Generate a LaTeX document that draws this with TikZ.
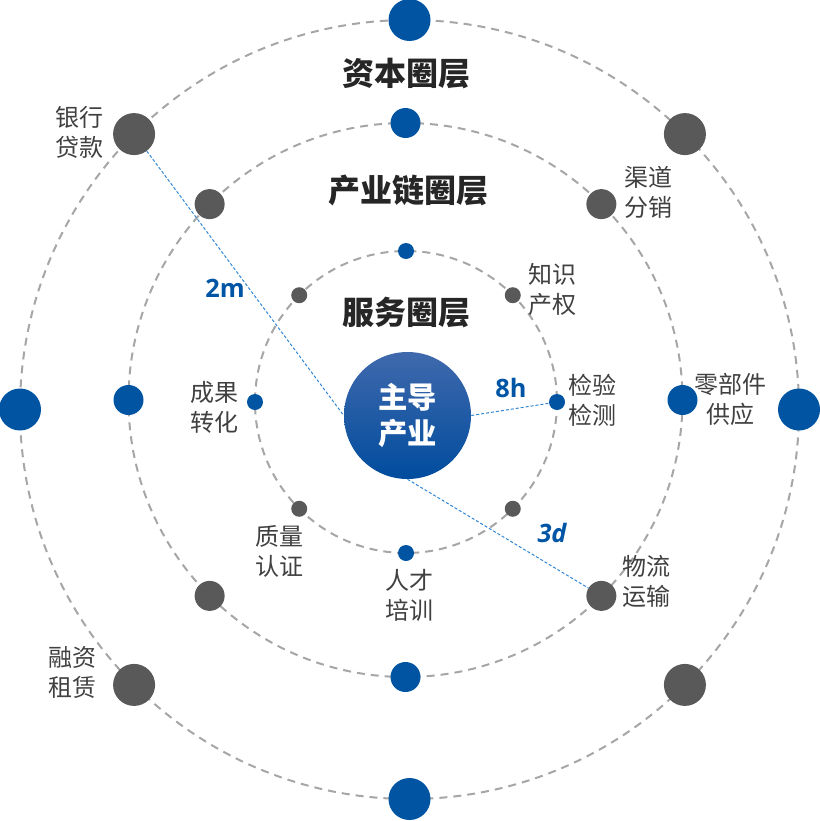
\documentclass[tikz,border=0pt]{standalone}
\usepackage{fontspec}
\setmainfont{Noto Sans CJK SC}
\newfontfamily\numfont{Open Sans}

\definecolor{ringgray}{HTML}{A6A6A6}
\definecolor{dotblue}{HTML}{0054A2}
\definecolor{dotgray}{HTML}{595959}
\definecolor{linkblue}{HTML}{2F86D6}
\definecolor{numblue}{HTML}{0055A5}
\definecolor{titlegray}{HTML}{262626}
\definecolor{labelgray}{HTML}{404040}
\definecolor{hubtop}{HTML}{4069AC}
\definecolor{hubbottom}{HTML}{004C9E}

\begin{document}
\begin{tikzpicture}[x=0.75pt, y=-0.75pt,
	ring/.style={draw=ringgray, line width=1.5pt, dash pattern=on 6pt off 4.5pt},
	bigdot/.style={circle, fill, inner sep=0pt, minimum size=31.5pt},
	middot/.style={circle, fill, inner sep=0pt, minimum size=22.5pt},
	smalldot/.style={circle, fill, inner sep=0pt, minimum size=12pt},
	layer/.style={font=\bfseries\fontsize{24}{28}\selectfont, text=titlegray, inner sep=0pt},
	lbl/.style={font=\fontsize{18}{22.5}\selectfont, text=labelgray, align=center, inner sep=0pt},
	num/.style={font=\numfont\bfseries\fontsize{19}{22}\selectfont, text=numblue, inner sep=0pt},
	link/.style={draw=linkblue, line width=0.75pt, dash pattern=on 2.25pt off 1.5pt}]
	\useasboundingbox (0,0) rectangle (819,821);
	
	% rings
	\draw[ring] (409.5,409.5) circle[radius=389.5];
	\draw[ring] (405.5,400) circle[radius=277];
	\draw[ring] (406,402) circle[radius=151];
	
	% outer ring dots
	\begin{scope}[shift={(409.5,409.5)}]
		\foreach \a/\n in {0/e,90/s,180/w,270/n}
			\node[bigdot, dotblue] (out-\n) at (\a:389.5) {};
		\foreach \a/\n in {45/se,135/sw,225/nw,315/ne}
			\node[bigdot, dotgray] (out-\n) at (\a:389.5) {};
	\end{scope}
	
	% middle ring dots
	\begin{scope}[shift={(405.5,400)}]
		\foreach \a/\n in {0/e,90/s,180/w,270/n}
			\node[middot, dotblue] (mid-\n) at (\a:277) {};
		\foreach \a/\n in {45/se,135/sw,225/nw,315/ne}
			\node[middot, dotgray] (mid-\n) at (\a:277) {};
	\end{scope}
	
	% inner ring dots
	\begin{scope}[shift={(406,402)}]
		\foreach \a/\n in {0/e,90/s,180/w,270/n}
			\node[smalldot, dotblue] (in-\n) at (\a:151) {};
		\foreach \a/\n in {45/se,135/sw,225/nw,315/ne}
			\node[smalldot, dotgray] (in-\n) at (\a:151) {};
	\end{scope}
	
	% hub
	\node[circle, inner sep=0pt, minimum size=95.25pt, top color=hubtop, bottom color=hubbottom,
		text=white, align=center, font=\bfseries\fontsize{22}{27}\selectfont] (hub) at (407.5,415.5) {主导\\产业};
	
	\draw[link] (out-nw) -- (hub.west); % bank
	\draw[link] (hub.east) -- (in-e); % testing
	\draw[link] (hub.south) -- (mid-se); % logistics
	
	\node[num] (n-2m) at (225,288) {2m};
	\node[num] (n-8h) at (511,388) {8h};
	\node[num, font=\numfont\bfseries\itshape\fontsize{19}{22}\selectfont] (n-3d) at (552,533) {3d};
	
	% layer titles
	\node[layer] (t-capital) at (406,74) {资本圈层};
	\node[layer] (t-chain) at (408,190) {产业链圈层};
	\node[layer] (t-service) at (406,313) {服务圈层};
	
	% labels
	\node[lbl] (l-bank) at (79,132) {银行\\贷款};
	\node[lbl] (l-channel) at (648,192) {渠道\\分销};
	\node[lbl] (l-ip) at (552,289) {知识\\产权};
	\node[lbl] (l-result) at (214,407) {成果\\转化};
	\node[lbl] (l-test) at (592,400) {检验\\检测};
	\node[lbl] (l-parts) at (730,399) {零部件\\供应};
	\node[lbl] (l-quality) at (279,551) {质量\\认证};
	\node[lbl] (l-talent) at (409,595) {人才\\培训};
	\node[lbl] (l-logistics) at (646,581) {物流\\运输};
	\node[lbl] (l-lease) at (72,672) {融资\\租赁};
\end{tikzpicture}
\end{document}
